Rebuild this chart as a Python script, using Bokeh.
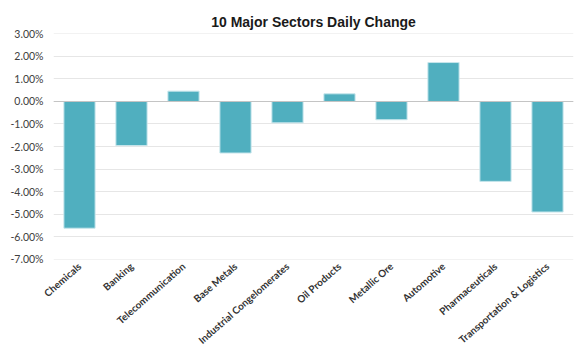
import math
from bokeh.plotting import figure
from bokeh.models import ColumnDataSource, FactorRange, Span, PrintfTickFormatter, FixedTicker, Range1d
from bokeh.embed import file_html
from bokeh.resources import INLINE

sectors = ["Chemicals", "Banking", "Telecommunication", "Base Metals",
           "Industrial Congelomerates", "Oil Products", "Metallic Ore",
           "Automotive", "Pharmaceuticals", "Transportation & Logistics"]
daily_change = [-5.63, -1.96, 0.46, -2.29, -0.95, 0.34, -0.81, 1.73, -3.55, -4.91]
y_ticks = [3, 2, 1, 0, -1, -2, -3, -4, -5, -6, -7]

src = ColumnDataSource(dict(x=sectors, top=daily_change))

p = figure(width=587, height=360, output_backend="svg", toolbar_location=None,
           x_range=FactorRange(*sectors, range_padding=0),
           y_range=Range1d(-7.02, 3.02),
           title="10 Major Sectors Daily Change",
           min_border_left=53, min_border_right=14, min_border_top=33, min_border_bottom=101)
p.outline_line_color = None
p.background_fill_color = "white"
p.border_fill_color = "white"

p.title.align = "center"
p.title.text_font = "Liberation Sans"
p.title.text_font_size = "14px"
p.title.text_font_style = "bold"
p.title.text_color = "#1a1a1a"
p.title.standoff = 8

p.vbar(x="x", top="top", bottom=0, width=0.6, source=src,
       fill_color="#50AFBF", line_color="#C8E6EC", line_width=1)

p.add_layout(Span(location=0, dimension="width", line_color="#C4C4C4", line_width=1.2))

p.xgrid.grid_line_color = None
p.ygrid.grid_line_color = "#E6E6E6"
p.ygrid.grid_line_width = 1.2

p.yaxis.ticker = FixedTicker(ticks=y_ticks)
p.yaxis.formatter = PrintfTickFormatter(format="%.2f%%")
p.yaxis.axis_line_color = None
p.yaxis.major_tick_line_color = None
p.yaxis.minor_tick_line_color = None
p.yaxis.major_tick_out = 0
p.yaxis.major_label_standoff = 10
p.yaxis.major_label_text_font = "Lato"
p.yaxis.major_label_text_font_size = "10.5px"
p.yaxis.major_label_text_color = "#404040"

p.xaxis.axis_line_color = None
p.xaxis.major_tick_line_color = None
p.xaxis.major_tick_out = 0
p.xaxis.major_label_orientation = 0.72
p.xaxis.major_label_standoff = 5
p.xaxis.major_label_text_font = "Lato"
p.xaxis.major_label_text_font_size = "10px"
p.xaxis.major_label_text_font_style = "bold"
p.xaxis.major_label_text_color = "#333333"

open("out.html", "w").write(file_html(p, INLINE))
